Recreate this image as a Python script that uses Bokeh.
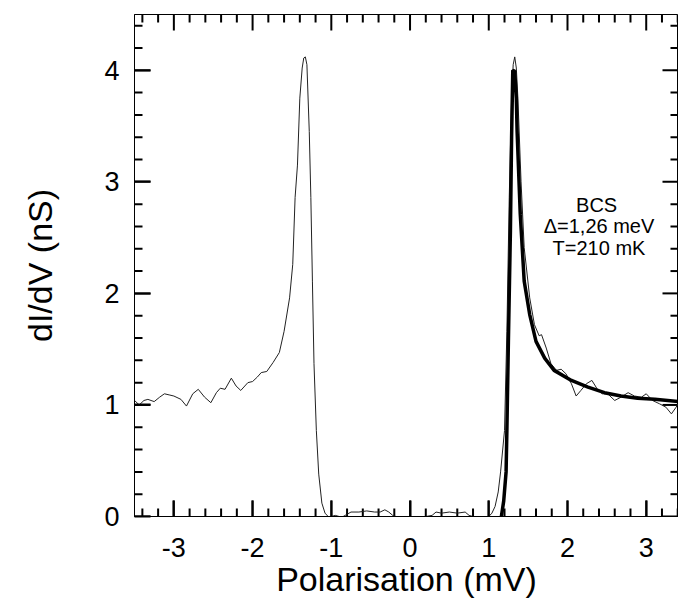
from bokeh.plotting import figure
from bokeh.models import LinearAxis, Range1d, FixedTicker, ColumnDataSource
from bokeh.core.properties import value
from bokeh.embed import file_html
from bokeh.resources import INLINE

# measured conductance (thin line)
thin_x = [-3.50, -3.44, -3.38, -3.33, -3.25, -3.18, -3.12, -3.06, -3.00, -2.91, -2.84, -2.76,
          -2.69, -2.61, -2.53, -2.46, -2.41, -2.35, -2.27, -2.21, -2.15, -2.06, -2.00, -1.94,
          -1.89, -1.82, -1.74, -1.66, -1.60, -1.53, -1.49, -1.46, -1.43, -1.40, -1.37, -1.35,
          -1.33, -1.31, -1.28, -1.26, -1.24, -1.22, -1.19, -1.16, -1.12, -1.08, -1.04, -1.00,
          -0.95, -0.90, -0.85, -0.80, -0.75, -0.65, -0.55, -0.45, -0.38, -0.32, -0.27, -0.22,
          -0.18, -0.10, 0.00, 0.10, 0.20, 0.28, 0.33, 0.40, 0.50, 0.60, 0.70, 0.75, 0.80, 0.90,
          1.00, 1.04, 1.08, 1.12, 1.15, 1.20, 1.23, 1.26, 1.29, 1.31, 1.33, 1.35, 1.37, 1.41,
          1.45, 1.52, 1.58, 1.64, 1.67, 1.73, 1.79, 1.86, 1.92, 1.98, 2.05, 2.11, 2.17, 2.24,
          2.31, 2.38, 2.44, 2.51, 2.60, 2.68, 2.77, 2.85, 2.94, 3.00, 3.08, 3.17, 3.25, 3.32,
          3.38, 3.43]
thin_y = [1.04, 1.00, 1.04, 1.05, 1.03, 1.07, 1.10, 1.09, 1.08, 1.05, 0.99, 1.10,
          1.14, 1.07, 1.02, 1.11, 1.15, 1.14, 1.24, 1.17, 1.13, 1.20, 1.21, 1.25,
          1.29, 1.30, 1.38, 1.47, 1.66, 1.96, 2.26, 2.86, 3.15, 3.75, 4.02, 4.11,
          4.12, 4.05, 3.45, 2.86, 2.11, 1.37, 0.77, 0.38, 0.12, 0.03, 0.00, 0.00,
          0.01, 0.00, 0.00, 0.02, 0.04, 0.04, 0.05, 0.04, 0.04, 0.06, 0.04, 0.01,
          0.00, 0.00, 0.00, 0.00, 0.00, 0.01, 0.04, 0.03, 0.04, 0.03, 0.04, 0.01, 0.00, 0.00,
          0.00, 0.03, 0.09, 0.22, 0.40, 0.77, 1.66, 2.86, 3.75, 4.05, 4.12, 4.02, 3.75, 3.00,
          2.41, 1.96, 1.72, 1.62, 1.63, 1.51, 1.37, 1.31, 1.32, 1.28, 1.19, 1.08, 1.13, 1.19,
          1.22, 1.14, 1.10, 1.10, 1.04, 1.07, 1.11, 1.08, 1.07, 1.10, 1.04, 1.01, 0.98, 0.92,
          0.98, 1.04]

# BCS fit (thick line)
fit_x = [1.16, 1.19, 1.22, 1.23, 1.25, 1.275, 1.29, 1.305, 1.33, 1.35, 1.36, 1.40, 1.45,
         1.52, 1.60, 1.71, 1.83, 2.05, 2.26, 2.47, 2.68, 2.89, 3.11, 3.43]
fit_y = [0.00, 0.14, 0.40, 0.77, 1.60, 2.56, 3.40, 4.00, 3.99, 3.75, 3.45, 2.71, 2.11,
         1.81, 1.57, 1.42, 1.31, 1.22, 1.16, 1.11, 1.08, 1.06, 1.05, 1.03]

x_tick_values = [-3, -2, -1, 0, 1, 2, 3]
x_tick_labels = ["-3", "-2", "-1", "0", "1", "2", "3"]
x_minor_ticks = [k / 5 for k in range(-17, 18) if k % 5 != 0]
y_tick_values = [0, 1, 2, 3, 4]
y_tick_labels = ["0", "1", "2", "3", "4"]
y_minor_ticks = [k / 5 for k in range(1, 23) if k % 5 != 0]

note_lines = ["BCS", "\u0394=1,26 meV", "T=210 mK"]
note_x = [2.37, 2.40, 2.40]
note_y = [2.79, 2.60, 2.41]

X_RANGE = (-3.5, 3.41)
Y_RANGE = (0, 4.5)
FRAME_W, FRAME_H = 544, 502
FONT = "Liberation Sans"
TICK_COLOR = "black"
MAJ_PX, MIN_PX = 16, 8

p = figure(frame_width=FRAME_W, frame_height=FRAME_H,
           x_range=Range1d(*X_RANGE), y_range=Range1d(*Y_RANGE),
           output_backend="svg", toolbar_location=None,
           min_border_left=134, min_border_top=14, min_border_right=0,
           min_border_bottom=80, x_axis_type=None, y_axis_type=None)
p.grid.visible = False
p.outline_line_color = "black"
p.outline_line_width = 1
p.background_fill_color = "white"
p.border_fill_color = "white"


def style_axis(ax, ticks, labels):
    ax.ticker = FixedTicker(ticks=ticks)
    ax.major_label_overrides = labels
    ax.major_tick_in = MAJ_PX
    ax.major_tick_out = 0
    ax.major_tick_line_color = TICK_COLOR
    ax.major_tick_line_width = 2
    ax.minor_tick_in = 0
    ax.minor_tick_out = 0
    ax.axis_line_color = "black"
    ax.major_label_text_font = FONT
    ax.axis_label_text_font = FONT
    ax.axis_label_text_font_style = "normal"
    ax.axis_label_text_color = "black"
    ax.major_label_text_color = "black"
    ax.major_label_text_font_size = "27px"
    ax.axis_label_text_font_size = "34px"


xlabels = {v: s for v, s in zip(x_tick_values, x_tick_labels)}
ylabels = {v: s for v, s in zip(y_tick_values, y_tick_labels)}

bottom = LinearAxis(axis_label="Polarisation (mV)")
style_axis(bottom, x_tick_values, xlabels)
bottom.major_label_standoff = 21
bottom.axis_label_standoff = 0
p.add_layout(bottom, "below")

left = LinearAxis(axis_label="dI/dV (nS)")
style_axis(left, y_tick_values, ylabels)
left.major_label_standoff = 15
left.axis_label_standoff = 42
p.add_layout(left, "left")

# inward ticks on all four sides; lengths in pixels converted to data units
x_per_px = (X_RANGE[1] - X_RANGE[0]) / FRAME_W
y_per_px = (Y_RANGE[1] - Y_RANGE[0]) / FRAME_H


def tick_marks(xt, yt, length):
    xs, ys = [], []
    dy = length * y_per_px
    dx = length * x_per_px
    for t in xt:
        xs += [[float(t), float(t)], [float(t), float(t)]]
        ys += [[Y_RANGE[0], Y_RANGE[0] + dy], [Y_RANGE[1], Y_RANGE[1] - dy]]
    for t in yt:
        xs += [[X_RANGE[0], X_RANGE[0] + dx], [X_RANGE[1], X_RANGE[1] - dx]]
        ys += [[float(t), float(t)], [float(t), float(t)]]
    return xs, ys


maj_xs, maj_ys = tick_marks(x_tick_values, y_tick_values, MAJ_PX)
min_xs, min_ys = tick_marks(x_minor_ticks, y_minor_ticks, MIN_PX)

p.multi_line(xs=maj_xs, ys=maj_ys, line_color=TICK_COLOR, line_width=2)
p.multi_line(xs=min_xs, ys=min_ys, line_color=TICK_COLOR, line_width=2)

p.line(thin_x, thin_y, line_color="#222222", line_width=1)
p.line(fit_x, fit_y, line_color="black", line_width=3.5)

src = ColumnDataSource(dict(x=note_x, y=note_y, t=note_lines))
p.text(x="x", y="y", text="t", source=src, text_font=value(FONT),
       text_font_size="20px", text_align="center", text_baseline="middle",
       text_color="black")

open("out.html", "w").write(file_html(p, INLINE))
